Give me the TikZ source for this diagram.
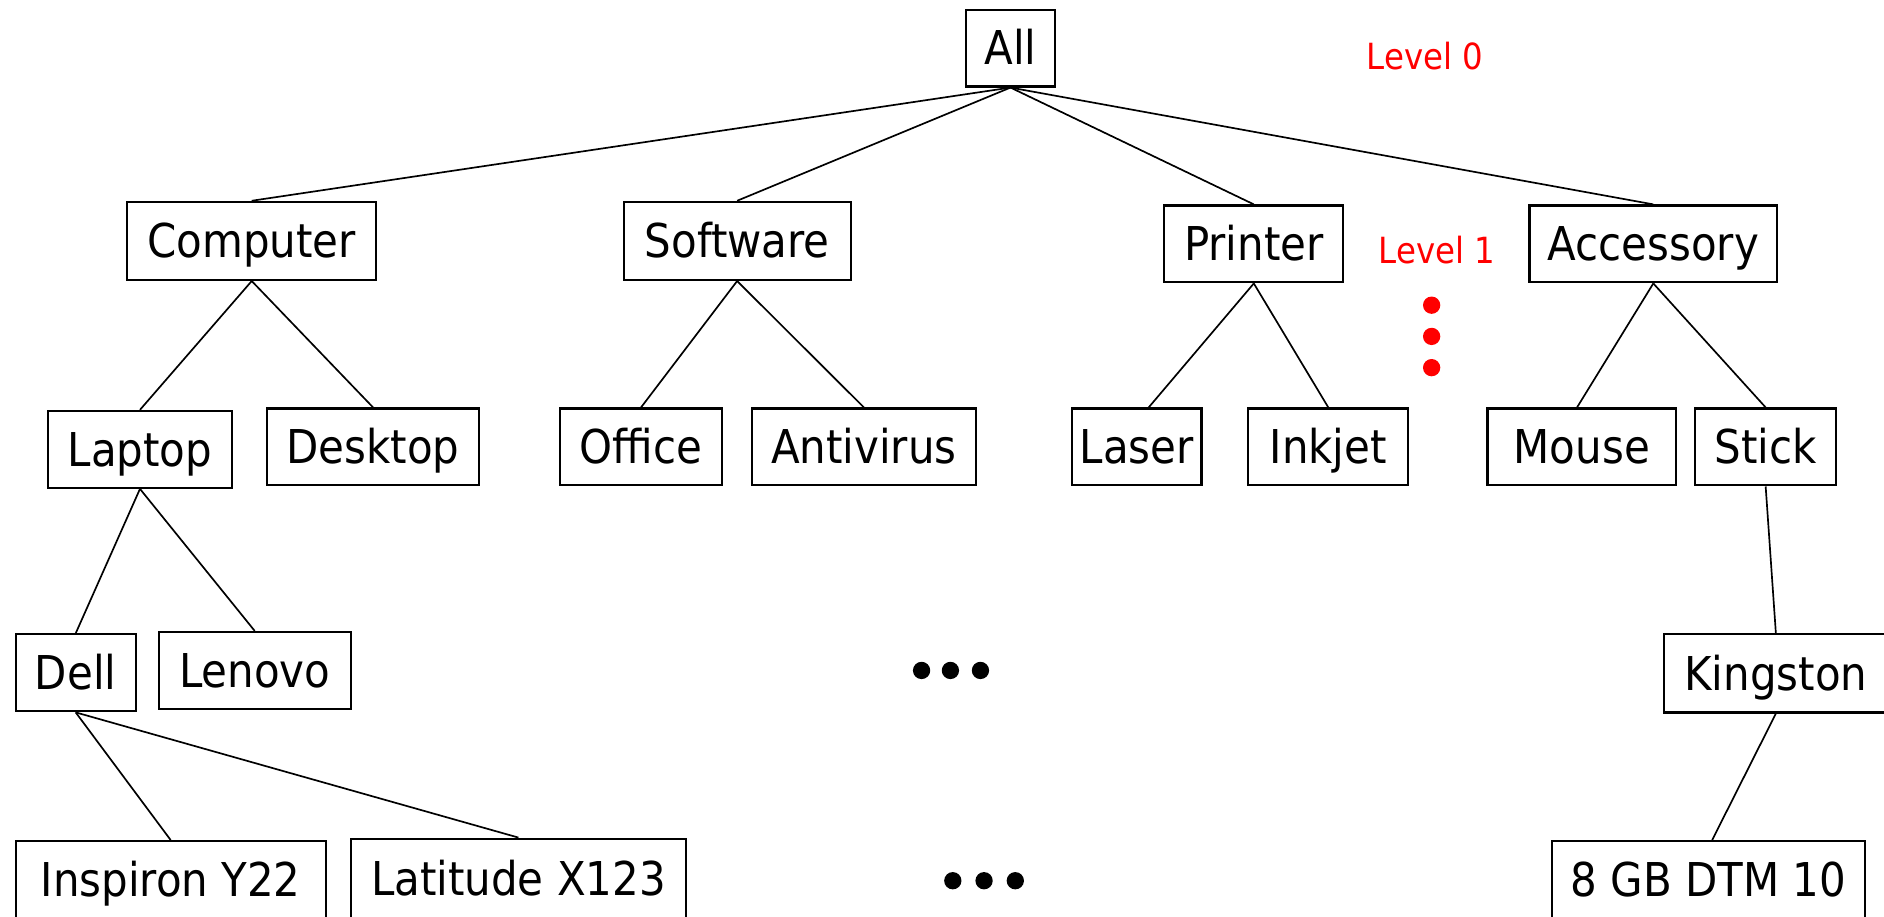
\documentclass[tikz,border=0pt]{standalone}
\usepackage{fontspec}
\setmainfont{DejaVu Sans Condensed}
\tikzset{
  box/.style={draw=black, line width=0.9pt, fill=white, inner sep=0pt,
    text height=14.1pt, text depth=0pt,
    font=\fontsize{19.4pt}{23pt}\selectfont},
  conn/.style={draw=black, line width=0.7pt},
  lvl/.style={text=red, inner sep=0pt, text height=11pt, text depth=0pt,
    font=\fontsize{15pt}{18pt}\selectfont},
}
\newcommand\bx[6]{\node[box,minimum width=#4*0.5pt,minimum height=#5*0.5pt] (#1) at (#2,#3) {#6};}
\begin{document}
\begin{tikzpicture}[x=0.5pt,y=-0.5pt]
\useasboundingbox (0,0) rectangle (1568,763);
\clip (0,0) rectangle (1568,763);
% level 0
\bx{all}{841}{40}{74}{64}{All}
\node[lvl] (lv0) at (1186,47) {Level 0};
% level 1
\bx{computer}{209.5}{200.5}{207}{65}{Computer}
\bx{software}{613.5}{200.5}{189}{65}{Software}
\bx{printer}{1043.5}{203}{149}{64}{Printer}
\bx{accessory}{1376}{203}{206}{64}{Accessory}
\node[lvl] (lv1) at (1196,208) {Level 1};
% level 2
\bx{laptop}{116.5}{374}{153}{64}{Laptop}
\bx{desktop}{310.5}{372}{177}{64}{Desktop}
\bx{office}{533.5}{372}{135}{64}{Office}
\bx{antivirus}{719}{372}{186}{64}{Antivirus}
\bx{laser}{946}{372}{108}{64}{Laser}
\bx{inkjet}{1105.5}{372}{133}{64}{Inkjet}
\bx{mouse}{1316.5}{372}{157}{64}{Mouse}
\bx{stick}{1469.5}{372}{117}{64}{Stick}
% level 3
\bx{dell}{63}{560}{100}{64}{Dell}
\bx{lenovo}{212}{558}{160}{64}{Lenovo}
\bx{kingston}{1478}{560.5}{186}{65}{Kingston}
% level 4
\bx{inspiron}{142}{732}{258}{64}{Inspiron Y22}
\bx{latitude}{431.5}{731}{279}{66}{Latitude X123}
\bx{dtm}{1422}{732}{260}{64}{8 GB DTM 10}
% connectors
\draw[conn] (all.south) -- (computer.north);
\draw[conn] (all.south) -- (software.north);
\draw[conn] (all.south) -- (printer.north);
\draw[conn] (all.south) -- (accessory.north);
\draw[conn] (computer.south) -- (laptop.north);
\draw[conn] (computer.south) -- (desktop.north);
\draw[conn] (software.south) -- (office.north);
\draw[conn] (software.south) -- (antivirus.north);
\draw[conn] (printer.south) -- ([xshift=5pt]laser.north);
\draw[conn] (printer.south) -- (inkjet.north);
\draw[conn] (accessory.south) -- ([xshift=-2pt]mouse.north);
\draw[conn] (accessory.south) -- (stick.north);
\draw[conn] (laptop.south) -- (dell.north);
\draw[conn] (laptop.south) -- (lenovo.north);
\draw[conn] (stick.south) -- (kingston.north);
\draw[conn] (dell.south) -- (inspiron.north);
\draw[conn] (dell.south) -- (latitude.north);
\draw[conn] (kingston.south) -- ([xshift=1.5pt]dtm.north);
% red vertical dots
\foreach \yy in {254,280,306} \fill[red] (1191.5,\yy) circle (3.6pt);
% black ellipsis dots
\foreach \xx in {767,791,816} \fill[black] (\xx,558) circle (3.6pt);
\foreach \xx in {793,819,845} \fill[black] (\xx,733) circle (3.6pt);
\end{tikzpicture}
\end{document}
